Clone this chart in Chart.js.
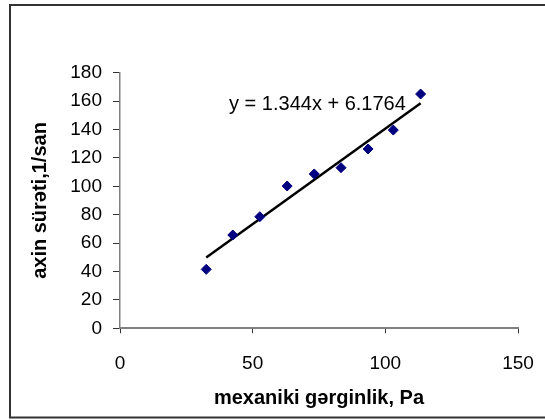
<!DOCTYPE html>
<html>
<head>
<meta charset="utf-8">
<script src="https://cdn.jsdelivr.net/npm/chart.js@4.4.1/dist/chart.umd.min.js"></script>
<style>
  html, body { margin: 0; padding: 0; background: #fff; }
  #wrap { position: relative; width: 545px; height: 420px; }
</style>
</head>
<body>
<div id="wrap"><canvas id="chart" width="545" height="420"></canvas></div>
<script>
// values
const stressPa = [32.5, 42.5, 52.7, 63, 73.2, 83.3, 93.5, 103, 113.3];
const flowRate = [41.5, 65.7, 78.6, 100.2, 108.7, 113.1, 126.3, 139.6, 165];

// trendline ends (Excel linear fit shown on chart)
const trendX = [32.5, 113.3];
const trendY = [49.9, 158.5];
const trendText = "y = 1.344x + 6.1764";

const xTicks = [0, 50, 100, 150];
const yTicks = [0, 20, 40, 60, 80, 100, 120, 140, 160, 180];

const FONT = "'Liberation Sans', Arial, sans-serif";

// outer frame + equation text
const framePlugin = {
  id: "frame",
  beforeDraw(chart) {
    const ctx = chart.ctx;
    ctx.save();
    ctx.fillStyle = "#fff";
    ctx.fillRect(0, 0, chart.width, chart.height);
    ctx.strokeStyle = "#333";
    ctx.lineWidth = 2;
    ctx.strokeRect(10, 5, 600, 412.5);
    ctx.restore();
  },
  afterDatasetsDraw(chart) {
    const { ctx, scales } = chart;
    ctx.save();
    ctx.font = "20px " + FONT;
    ctx.fillStyle = "#000";
    ctx.textBaseline = "middle";
    ctx.textAlign = "left";
    ctx.fillText(trendText, scales.x.getPixelForValue(41.1), scales.y.getPixelForValue(157.5));
    ctx.restore();
  }
};

new Chart(document.getElementById("chart"), {
  type: "scatter",
  data: {
    datasets: [
      {
        label: "data",
        data: stressPa.map((x, i) => ({ x, y: flowRate[i] })),
        pointStyle: "rectRot",
        pointRadius: 5,
        pointBorderWidth: 1,
        backgroundColor: "#000080",
        borderColor: "#000080",
        order: 1,
      },
      {
        label: "trend",
        type: "line",
        data: trendX.map((x, i) => ({ x, y: trendY[i] })),
        borderColor: "#000",
        borderWidth: 2.5,
        pointRadius: 0,
        fill: false,
        order: 2,
      },
    ],
  },
  options: {
    responsive: false,
    animation: false,
    events: [],
    layout: { padding: { left: 0, right: 27, top: 72.7, bottom: 0 } },
    plugins: { legend: { display: false }, tooltip: { enabled: false } },
    scales: {
      x: {
        type: "linear",
        min: 0,
        max: 150,
        afterBuildTicks: (s) => { s.ticks = xTicks.map(v => ({ value: v })); },
        afterFit: (s) => { s.height = 91.7; s.paddingLeft = 0; s.paddingRight = 0; },
        border: { display: true, color: "#808080", width: 2 },
        grid: { drawOnChartArea: false, drawTicks: true, tickLength: 5, tickColor: "#333", lineWidth: 1 },
        ticks: { color: "#000", font: { family: FONT, size: 19 }, padding: 19, maxRotation: 0 },
        title: {
          display: true,
          text: "mexaniki gərginlik, Pa",
          color: "#000",
          font: { family: FONT, size: 20, weight: "bold" },
          padding: { top: 0, bottom: 10 },
        },
      },
      y: {
        type: "linear",
        min: 0,
        max: 180,
        afterBuildTicks: (s) => { s.ticks = yTicks.map(v => ({ value: v })); },
        afterFit: (s) => { s.width = 120; },
        border: { display: true, color: "#808080", width: 1.5 },
        grid: { drawOnChartArea: false, drawTicks: true, tickLength: 7, tickColor: "#333", lineWidth: 1 },
        ticks: { color: "#000", font: { family: FONT, size: 19 }, padding: 11 },
        title: {
          display: true,
          text: "axin sürəti,1/san",
          color: "#000",
          font: { family: FONT, size: 20, weight: "bold" },
          padding: { top: 28, bottom: 0 },
        },
      },
    },
  },
  plugins: [framePlugin],
});
</script>
</body>
</html>
